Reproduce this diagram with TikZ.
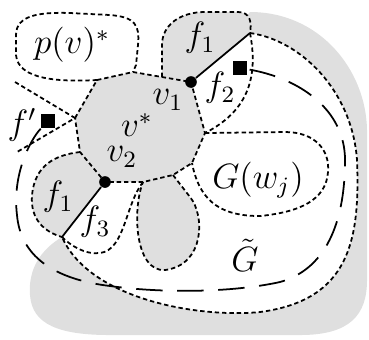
\documentclass[tikz,border=0pt]{standalone}
\usetikzlibrary{positioning,calc}

\begin{document}
\begin{tikzpicture}[
x=0.012cm, y=-0.012cm,
shade/.style={fill=gray!25},
bnd/.style={
    dash pattern=on 1.5pt off 1pt,
    line width=0.6pt
},
longdash/.style={
    dash pattern=on 9pt off 5pt,
    line width=0.6pt
},
edge/.style={line width=0.6pt},
vtx/.style={circle, fill=black, inner sep=0pt, minimum size=0.14cm},
box/.style={rectangle, fill=black, inner sep=0pt, minimum size=0.17cm},
lab/.style={font=\large}
]
\useasboundingbox (0,0) rectangle (369,339);

% corners of the pieces
\coordinate (c1) at (191,82);
\coordinate (c2) at (105,182);
\coordinate (tr) at (250,33);
\coordinate (bl) at (62,237);
\coordinate (wj) at (205,133);
\coordinate (fp) at (75,118);

% grey band round G~
\fill[shade] (bl) .. controls (40,250) and (28,270) .. (30,295)
    .. controls (32,325) and (60,335) .. (110,335) -- (300,335)
    .. controls (350,335) and (367,315) .. (367,280) -- (367,130)
    .. controls (366,70) and (320,12) .. (250,12) -- (c1) -- (c2) -- cycle;
\fill[white] (tr) .. controls (300,40) and (352,90) .. (357,160)
    .. controls (360,240) and (350,300) .. (260,312)
    .. controls (200,318) and (90,300) .. (bl) -- (c2) -- (c1) -- cycle;

% grey faces
\fill[shade] (fp) -- (97,80) -- (133,72) -- (162,77) -- (c1) -- (wj)
    -- (192,163) -- (173,175) -- (143,182) -- (c2) -- (80,152) -- cycle;
\fill[shade] (162,77) -- (162,45) .. controls (162,25) and (180,12) .. (205,12)
    -- (238,12) .. controls (250,12) and (252,22) .. (tr) -- (c1) -- cycle;
\fill[shade] (80,152) .. controls (55,155) and (35,165) .. (32,195)
    .. controls (30,220) and (45,232) .. (bl) -- (c2) -- cycle;
\fill[shade] (173,175) -- (190,197) .. controls (205,215) and (205,265) .. (165,270)
    .. controls (135,272) and (132,210) .. (143,182) -- cycle;

% boundaries
\draw[bnd] (tr) .. controls (300,40) and (352,90) .. (357,160)
    .. controls (360,240) and (350,300) .. (260,312)
    .. controls (200,318) and (90,300) .. (bl);
\draw[bnd] (fp) -- (97,80) -- (133,72) -- (162,77) -- (c1) -- (wj)
    -- (192,163) -- (173,175) -- (143,182) -- (c2) -- (80,152) -- cycle;
\draw[bnd] (162,77) -- (162,45) .. controls (162,25) and (180,12) .. (205,12)
    -- (238,12) .. controls (250,12) and (252,22) .. (tr);
\draw[bnd] (tr) .. controls (258,75) and (250,110) .. (wj);
\draw[bnd] (80,152) .. controls (55,155) and (35,165) .. (32,195)
    .. controls (30,220) and (45,232) .. (bl);
\draw[bnd] (143,182) .. controls (125,205) and (125,250) .. (100,253)
    .. controls (85,255) and (70,245) .. (bl);
\draw[bnd] (173,175) -- (190,197) .. controls (205,215) and (205,265) .. (165,270)
    .. controls (135,272) and (132,210) .. (143,182);
\draw[bnd] (wj) -- (285,132) .. controls (315,132) and (330,150) .. (328,172)
    .. controls (326,200) and (300,212) .. (260,216)
    .. controls (225,216) and (200,205) .. (192,163);
\draw[bnd] (97,80) .. controls (60,82) and (18,80) .. (16,55) -- (16,35)
    .. controls (16,15) and (40,12) .. (70,13) -- (110,15)
    .. controls (135,17) and (140,25) .. (138,45) -- (136,65) -- (133,72);
\draw[bnd] (15,82) -- (fp) -- (17,152);

% vertices and faces
\node[vtx] (v1) at (c1) {};
\node[vtx] (v2) at (c2) {};
\node[box] (sqa) at (48,121) {};
\node[box] (sqb) at (240,68) {};

\draw[edge] (v1) -- (tr);
\draw[edge] (v2) -- (bl);

% path from f' to f2
\draw[longdash] (sqa) .. controls (30,140) and (12,175) .. (17,215)
    .. controls (20,250) and (45,278) .. (110,286)
    .. controls (160,293) and (230,293) .. (280,282)
    .. controls (330,268) and (345,215) .. (345,160)
    .. controls (345,110) and (300,78) .. (sqb);

\node[lab] (pv) at (72,45) {$p(v)^*$};
\node[lab] (lfp) at (22,125) {$f'$};
\node[lab] (lvs) at (137,125) {$v^*$};
\node[lab] (lv1) at (168,100) {$v_1$};
\node[lab] (lv2) at (122,157) {$v_2$};
\node[lab] (lfa) at (200,38) {$f_1$};
\node[lab] (lfb) at (220,88) {$f_2$};
\node[lab] (lfc) at (58,197) {$f_1$};
\node[lab] (lfd) at (95,222) {$f_3$};
\node[lab] (lgw) at (258,180) {$G(w_j)$};
\node[lab] (lgt) at (245,255) {$\tilde G$};

\end{tikzpicture}
\end{document}
